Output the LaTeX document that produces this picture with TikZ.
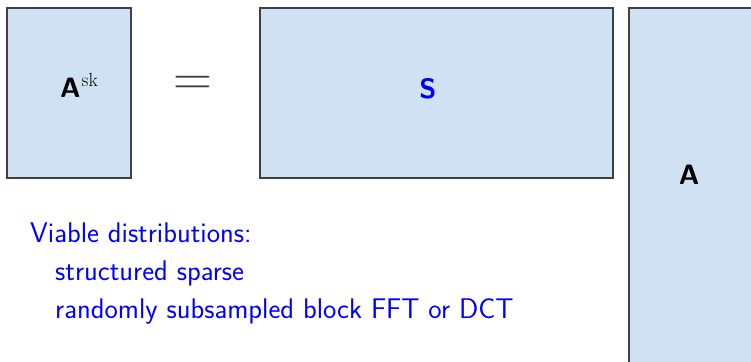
\documentclass[tikz,border=0pt]{standalone}
\usepackage{fontspec}
\definecolor{boxfill}{RGB}{207,225,242}
\definecolor{txtblue}{RGB}{0,0,255}
\tikzset{
  mat/.style={draw=black!75, line width=1.2pt, fill=boxfill},
  lbl/.style={font=\sffamily\bfseries\fontsize{28}{32}\selectfont, anchor=base, inner sep=0pt},
  bodytext/.style={font=\sffamily\fontsize{28.4}{32}\selectfont, text=txtblue, anchor=base west, inner sep=0pt}
}
\begin{document}
\begin{tikzpicture}[x=1pt,y=-1pt]
\useasboundingbox (0,0) rectangle (751,361);
\clip (0,0) rectangle (751,361);
\draw[mat] (7,8) rectangle (131,178);
\draw[mat] (260,8) rectangle (613,178);
\draw[mat] (629,8) rectangle (770,380);
\node[lbl] (ask) at (79,97) {A\kern1pt\raisebox{11pt}{\rmfamily\mdseries\fontsize{19}{20}\selectfont sk}};
\node[lbl, text=txtblue] (s) at (428,98) {S};
\node[lbl] (a) at (689,184) {A};
\node[text=black!75, font=\rmfamily\fontsize{54}{54}\selectfont, inner sep=0pt, anchor=base] (eq) at (193,95) {=};
\node[bodytext] (t1) at (30,242) {Viable distributions:};
\node[bodytext] (t2) at (55,280) {structured sparse};
\node[bodytext] (t3) at (55,318) {randomly subsampled block FFT or DCT};
\end{tikzpicture}
\end{document}
